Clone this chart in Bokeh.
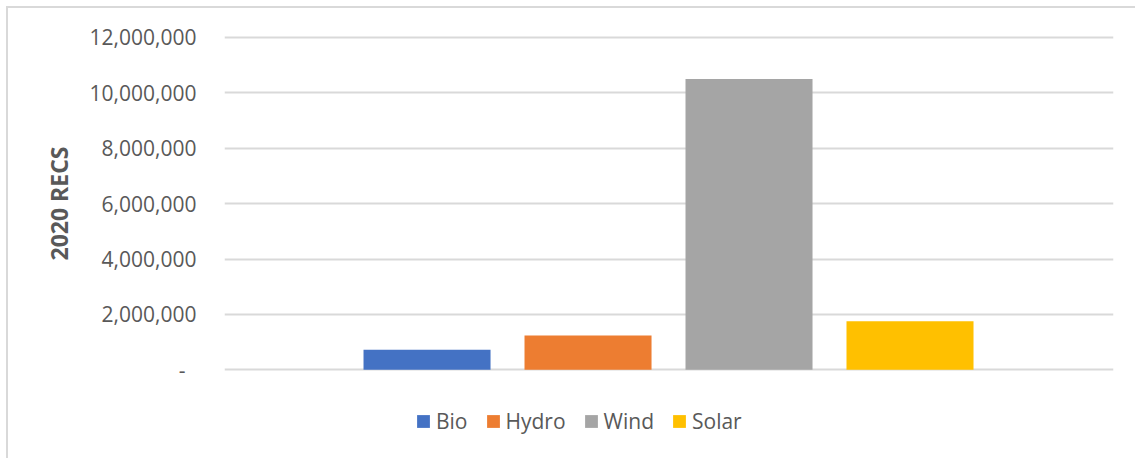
from bokeh.plotting import figure
from bokeh.models import (ColumnDataSource, Range1d, FixedTicker, Legend, LegendItem, Title)
from bokeh.embed import file_html
from bokeh.resources import INLINE

# ---- data ----
categories = ["Bio", "Hydro", "Wind", "Solar"]
recs_2020 = [720000, 1240000, 10500000, 1750000]
bar_colors = ["#4472C4", "#ED7D31", "#A5A5A5", "#FFC000"]
y_ticks = [0, 2000000, 4000000, 6000000, 8000000, 10000000, 12000000]
y_tick_labels = ["-\u00a0\u00a0", "2,000,000", "4,000,000", "6,000,000",
                 "8,000,000", "10,000,000", "12,000,000"]
y_axis_title = "2020 RECS"

positions = list(range(len(categories)))
src = ColumnDataSource(dict(x=positions, top=recs_2020, cat=categories, color=bar_colors))

p = figure(width=1135, height=458, output_backend="svg", toolbar_location=None,
           x_axis_type=None,
           x_range=Range1d(-1.258, 4.264), y_range=Range1d(-2733000, 12072000),
           min_border_left=224, min_border_right=22, min_border_top=35,
           min_border_bottom=13)
p.outline_line_color = None
p.background_fill_color = "white"
p.border_fill_alpha = 0
p.styles = {
    "background-color": "white",
    "background-image": "linear-gradient(#d9d9d9, #d9d9d9), linear-gradient(#d9d9d9, #d9d9d9)",
    "background-size": "2px 100%, 100% 2px",
    "background-position": "6px 6px, 6px 6px",
    "background-repeat": "no-repeat",
}

r = p.vbar(x="x", top="top", width=0.789, bottom=0, source=src,
           fill_color="color", line_color=None)

ax = p.yaxis[0]
ax.ticker = FixedTicker(ticks=y_ticks)
ax.major_label_overrides = {t: l for t, l in zip(y_ticks, y_tick_labels)}
ax.axis_line_color = None
ax.major_tick_line_color = None
ax.minor_tick_line_color = None
ax.major_label_standoff = 22
ax.major_label_text_font = "Open Sans"
ax.major_label_text_font_size = "21px"
ax.major_label_text_color = "#595959"

p.ygrid.grid_line_color = "#d9d9d9"
p.ygrid.grid_line_width = 2

ytitle = Title(text=y_axis_title, align="left", offset=185, standoff=24,
               text_font="Open Sans", text_font_style="bold",
               text_font_size="23px", text_color="#595959")
p.add_layout(ytitle, "left")

items = [LegendItem(label=c, renderers=[r], index=i) for i, c in enumerate(categories)]
legend = Legend(items=items, orientation="horizontal", location=(191, 10),
                padding=0, margin=0, spacing=17, label_standoff=5,
                glyph_width=16, glyph_height=16, label_width=0,
                label_text_font="Open Sans", label_text_font_size="21px",
                label_text_color="#595959", border_line_color=None,
                background_fill_alpha=0)
p.add_layout(legend, "center")

open("out.html", "w").write(file_html(p, INLINE))
